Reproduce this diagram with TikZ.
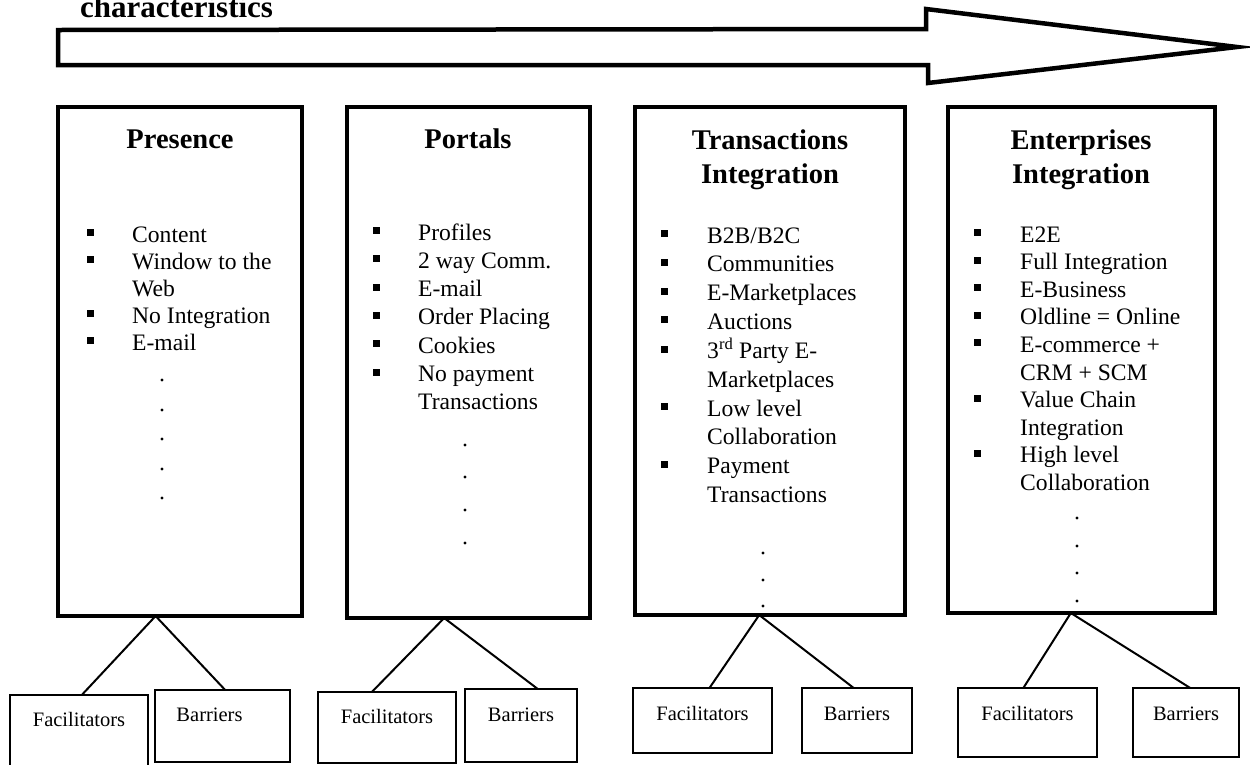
\documentclass[tikz,border=0pt]{standalone}
\usepackage{fontspec}
\setmainfont{Liberation Serif}
\usetikzlibrary{calc}
\newcommand{\blt}{\rule[6pt]{7pt}{7pt}}
\begin{document}
\begin{tikzpicture}[x=1pt,y=-1pt,
  mainbox/.style={draw, line width=4.5pt, rectangle, inner sep=0pt, outer sep=0pt},
  subbox/.style={draw, line width=1.6pt, rectangle, inner xsep=0pt, inner ysep=0pt,
    outer sep=0pt, anchor=north west, font=\fontsize{20.5}{24}\selectfont},
  conn/.style={line width=2pt},
  boxtitle/.style={anchor=base, inner sep=0pt, font=\bfseries\fontsize{28.5}{34}\selectfont},
  itemlist/.style={anchor=base west, inner sep=0pt, font=\fontsize{23.6}{#1}\selectfont}]
\useasboundingbox (0,0) rectangle (1250,764);

% heading and progression arrow
\node[anchor=base west, inner sep=0pt, font=\bfseries\fontsize{31}{36}\selectfont] (head) at (80,17) {characteristics};
\draw[line width=4.5pt, line join=miter]
  (58,30) -- (926,29) -- (926,9) -- (1237,47) -- (928,83) -- (928,65) -- (58,65) -- cycle;

% stage boxes
\node[mainbox, minimum width=244pt, minimum height=509pt] (p1) at (180,361.5) {};
\node[mainbox, minimum width=243pt, minimum height=511pt] (p2) at (468.5,362.5) {};
\node[mainbox, minimum width=270pt, minimum height=508pt] (p3) at (770,361) {};
\node[mainbox, minimum width=267pt, minimum height=506pt] (p4) at (1081.5,360) {};

% stage titles
\node[boxtitle] (t1) at (180,148) {Presence};
\node[boxtitle] (t2) at (468,148) {Portals};
\node[boxtitle] (t3) at (770,149) {\begin{tabular}[t]{@{}c@{}}Transactions\\Integration\end{tabular}};
\node[boxtitle] (t4) at (1081,149) {\begin{tabular}[t]{@{}c@{}}Enterprises\\Integration\end{tabular}};

% characteristics of each stage
\node[itemlist=27] (l1) at (87,242) {\begin{tabular}[t]{@{}p{45pt}@{}l@{}}
\blt & Content\\
\blt & Window to the\\
     & Web\\
\blt & No Integration\\
\blt & E-mail
\end{tabular}};
\node[itemlist=28.3] (l2) at (373,240) {\begin{tabular}[t]{@{}p{45pt}@{}l@{}}
\blt & Profiles\\
\blt & 2 way Comm.\\
\blt & E-mail\\
\blt & Order Placing\\
\blt & Cookies\\
\blt & No payment\\
     & Transactions
\end{tabular}};
\node[itemlist=28.8] (l3) at (661,243) {\begin{tabular}[t]{@{}p{46pt}@{}l@{}}
\blt & B2B/B2C\\
\blt & Communities\\
\blt & E-Marketplaces\\
\blt & Auctions\\
\blt & 3\textsuperscript{rd} Party E-\\
     & Marketplaces\\
\blt & Low level\\
     & Collaboration\\
\blt & Payment\\
     & Transactions
\end{tabular}};
\node[itemlist=27.6] (l4) at (974,242) {\begin{tabular}[t]{@{}p{46pt}@{}l@{}}
\blt & E2E\\
\blt & Full Integration\\
\blt & E-Business\\
\blt & Oldline = Online\\
\blt & E-commerce +\\
     & CRM + SCM\\
\blt & Value Chain\\
     & Integration\\
\blt & High level\\
     & Collaboration
\end{tabular}};

% continuation dots
\foreach \y in {380,410,439,469,498} \fill (162,\y) circle (1.6pt);
\foreach \y in {445,477,510,543} \fill (465,\y) circle (1.6pt);
\foreach \y in {553,580,606} \fill (763,\y) circle (1.6pt);
\foreach \y in {518,546,573,601} \fill (1077,\y) circle (1.6pt);

% facilitators and barriers
\node[subbox, minimum width=138pt, text height=31pt, text depth=42pt] (f1) at (10,695) {Facilitators};
\node[subbox, minimum width=135pt, text height=31pt, text depth=41pt] (r1) at (155,690) {Barriers\hspace*{26pt}};
\node[subbox, minimum width=138pt, text height=31pt, text depth=40pt] (f2) at (318,692) {Facilitators};
\node[subbox, minimum width=112pt, text height=32pt, text depth=41pt] (r2) at (465,689) {Barriers};
\node[subbox, minimum width=139pt, text height=32pt, text depth=33pt] (f3) at (633,688) {Facilitators};
\node[subbox, minimum width=110pt, text height=32pt, text depth=33pt] (r3) at (802,688) {Barriers};
\node[subbox, minimum width=139pt, text height=32pt, text depth=37pt] (f4) at (958,688) {Facilitators};
\node[subbox, minimum width=106pt, text height=32pt, text depth=37pt] (r4) at (1133,688) {Barriers};

% branches from each stage
\coordinate (a1) at ($(p1.south west)!0.40!(p1.south east)$);
\coordinate (a2) at ($(p2.south west)!0.40!(p2.south east)$);
\coordinate (a3) at ($(p3.south west)!0.46!(p3.south east)$);
\coordinate (a4) at ($(p4.south west)!0.46!(p4.south east)$);
\draw[conn] (a1) -- ($(f1.north west)!0.52!(f1.north east)$);
\draw[conn] (a1) -- ($(r1.north west)!0.52!(r1.north east)$);
\draw[conn] (a2) -- ($(f2.north west)!0.39!(f2.north east)$);
\draw[conn] (a2) -- ($(r2.north west)!0.65!(r2.north east)$);
\draw[conn] (a3) -- ($(f3.north west)!0.55!(f3.north east)$);
\draw[conn] (a3) -- ($(r3.north west)!0.47!(r3.north east)$);
\draw[conn] (a4) -- ($(f4.north west)!0.47!(f4.north east)$);
\draw[conn] (a4) -- ($(r4.north west)!0.54!(r4.north east)$);
\end{tikzpicture}
\end{document}
